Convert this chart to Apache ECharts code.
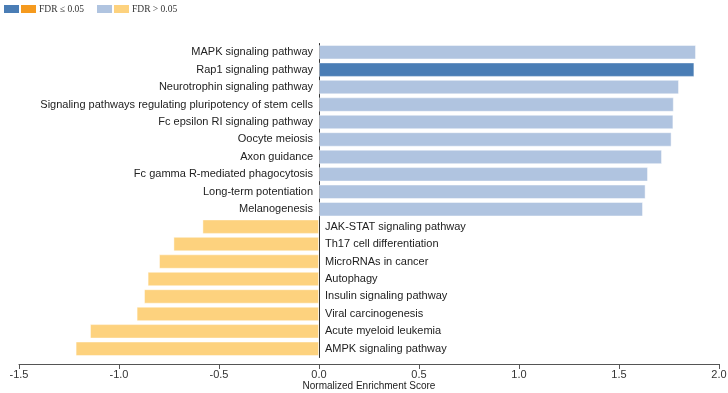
<!DOCTYPE html>
<html>
<head>
<meta charset="utf-8">
<script src="https://cdn.jsdelivr.net/npm/echarts@6/dist/echarts.min.js"></script>
<style>
  html, body { margin: 0; padding: 0; background: #fff; }
  #chart { width: 728px; height: 393px; }
</style>
</head>
<body>
<div id="chart"></div>
<script>
var pathways = [
  'MAPK signaling pathway',
  'Rap1 signaling pathway',
  'Neurotrophin signaling pathway',
  'Signaling pathways regulating pluripotency of stem cells',
  'Fc epsilon RI signaling pathway',
  'Oocyte meiosis',
  'Axon guidance',
  'Fc gamma R-mediated phagocytosis',
  'Long-term potentiation',
  'Melanogenesis',
  'JAK-STAT signaling pathway',
  'Th17 cell differentiation',
  'MicroRNAs in cancer',
  'Autophagy',
  'Insulin signaling pathway',
  'Viral carcinogenesis',
  'Acute myeloid leukemia',
  'AMPK signaling pathway'
]
var nes = [1.885, 1.877, 1.80, 1.774, 1.772, 1.763, 1.715, 1.645, 1.633, 1.62,
  -0.583, -0.728, -0.80, -0.857, -0.875, -0.912, -1.145, -1.217]
var fdrSig = [false, true, false, false, false, false, false, false, false, false,
  false, false, false, false, false, false, false, false]
var xTicks = [-1.5, 2.0, 0.5] // min, max, interval

var colors = {
  upSig: '#4a7db5',
  downSig: '#f59a1e',
  upNs: '#b0c4e0',
  downNs: '#fdd27e'
}

var barData = nes.map(function (v, i) {
  var c = v >= 0 ? (fdrSig[i] ? colors.upSig : colors.upNs) : (fdrSig[i] ? colors.downSig : colors.downNs)
  return {
    value: v,
    itemStyle: { color: c },
    label: { position: v >= 0 ? 'left' : 'right' }
  }
})

var legendText = {
  sigUp: '', sigDown: 'FDR \u2264 0.05',
  nsUp: '', nsDown: 'FDR > 0.05'
}
var legendStyle = {
  top: -1,
  orient: 'horizontal',
  itemWidth: 15,
  itemHeight: 8,
  itemGap: 2,
  icon: 'rect',
  selectedMode: false,
  textStyle: { fontFamily: 'Liberation Serif', fontSize: 9.5, color: '#333', padding: [0, 0, 0, -2] },
  formatter: function (n) { return legendText[n] }
}

var chart = echarts.init(document.getElementById('chart'))
chart.setOption({
  animation: false,
  legend: [
    Object.assign({ left: -1, data: ['sigUp', 'sigDown'] }, legendStyle),
    Object.assign({ left: 92, data: ['nsUp', 'nsDown'] }, legendStyle)
  ],
  grid: { left: 19, right: 9, top: 43.5, bottom: 35.5, outerBoundsMode: 'none', containLabel: false },
  xAxis: {
    type: 'value',
    min: xTicks[0],
    max: xTicks[1],
    interval: xTicks[2],
    offset: 6.5,
    name: 'Normalized Enrichment Score',
    nameLocation: 'middle',
    nameGap: 17,
    nameMoveOverlap: false,
    nameTextStyle: { fontFamily: 'Liberation Sans', fontSize: 10, color: '#222' },
    axisLine: { show: true, lineStyle: { color: '#555', width: 1 } },
    axisTick: { show: true, length: 5, lineStyle: { color: '#555' } },
    axisLabel: {
      fontFamily: 'Liberation Sans', fontSize: 11, color: '#333', margin: 5,
      formatter: function (v) { return v.toFixed(1) }
    },
    splitLine: { show: false }
  },
  yAxis: {
    type: 'category',
    inverse: true,
    data: pathways,
    axisLine: { show: true, onZero: true, lineStyle: { color: '#333', width: 1 } },
    axisTick: { show: false },
    axisLabel: { show: false },
    splitLine: { show: false }
  },
  series: [
    {
      type: 'bar',
      data: barData,
      barCategoryGap: '17%',
      itemStyle: { borderColor: 'rgba(255,255,255,0.45)', borderWidth: 1 },
      label: {
        show: true,
        distance: 6,
        fontFamily: 'Liberation Sans',
        fontSize: 11,
        color: '#222',
        formatter: function (p) { return pathways[p.dataIndex] }
      }
    },
    { name: 'sigUp', type: 'line', data: [], itemStyle: { color: colors.upSig } },
    { name: 'sigDown', type: 'line', data: [], itemStyle: { color: colors.downSig } },
    { name: 'nsUp', type: 'line', data: [], itemStyle: { color: colors.upNs } },
    { name: 'nsDown', type: 'line', data: [], itemStyle: { color: colors.downNs } }
  ]
})
</script>
</body>
</html>
